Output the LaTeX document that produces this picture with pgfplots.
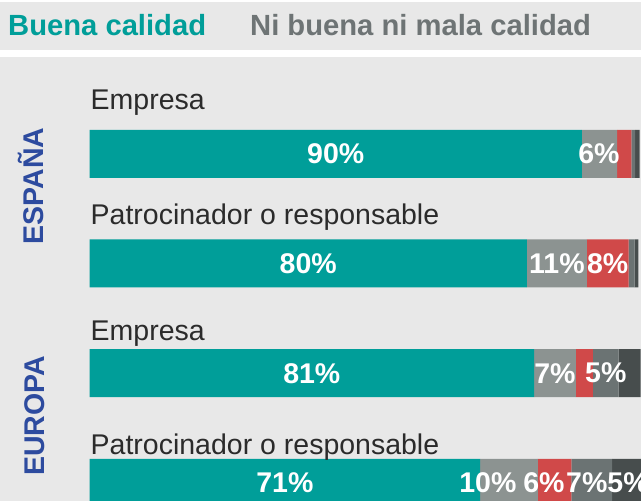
\documentclass[border=0pt]{standalone}
\usepackage{pgfplots}
\pgfplotsset{compat=1.18}
\usepackage{fontspec}
\setmainfont{Liberation Sans}
\definecolor{bg}{HTML}{E8E8E8}
\definecolor{cteal}{HTML}{009E99}
\definecolor{cgrey}{HTML}{8C9391}
\definecolor{cred}{HTML}{D04949}
\definecolor{cdk}{HTML}{6B7373}
\definecolor{cdkst}{HTML}{474D4D}
\definecolor{cblue}{HTML}{2D4B9F}
\definecolor{clegrey}{HTML}{6E7475}
\definecolor{ctext}{HTML}{2B2B2B}
\newcommand\bigf{\fontsize{28.5}{32}\selectfont}
\newcommand\legf{\fontsize{29.2}{32}\selectfont}
\begin{document}
\begin{tikzpicture}[x=1pt,y=1pt]
\useasboundingbox (0,0) rectangle (641,501);
\clip (0,0) rectangle (641,501);
\fill[white] (0,0) rectangle (641,501);
\fill[bg] (0,0) rectangle (641,444);
\fill[bg] (0,451) rectangle (641,499);
\pgfplotsset{base/.style={at={(0,0)}, anchor=south west, scale only axis,
  width=641pt, height=501pt, xmin=-16.29, xmax=100.36, ymin=0, ymax=501, hide axis}}
\begin{axis}[base, xbar stacked, bar width=48, clip=true]
\addplot[fill=cteal, draw=none] coordinates {(89.6,347) (79.6,237.7) (80.9,127.8) (71.1,18)};
\addplot[fill=cgrey, draw=none] coordinates {(6.4,347) (10.9,237.7) (7.6,127.8) (10.5,18)};
\addplot[fill=cred, draw=none] coordinates {(2.6,347) (7.6,237.7) (3.1,127.8) (6.1,18)};
\addplot[fill=cdk, draw=none] coordinates {(0.7,347) (1.1,237.7) (4.7,127.8) (7.4,18)};
\addplot[fill=cdkst, draw=none] coordinates {(0.8,347) (0.7,237.7) (4.0,127.8) (5.5,18)};
\end{axis}
\begin{axis}[base, clip=false]
\addplot[only marks, mark=none, nodes near coords={\pgfplotspointmeta}, point meta=explicit symbolic,
  every node near coord/.append style={anchor=center, text=white, inner sep=0pt, font=\bfseries\bigf}]
  coordinates {
  (44.8,347) [90\%] (92.7,347) [6\%]
  (39.8,237.7) [80\%] (85.05,237.7) [11\%] (94.3,237.7) [8\%]
  (40.45,127.8) [81\%] (84.7,127.8) [7\%] (93.95,127.8) [5\%]
  (35.55,18) [71\%] (72.5,18) [10\%] (82.7,18) [6\%] (90.5,18) [7\%] (98.0,18) [5\%]
  };
\end{axis}
\node[anchor=base west, inner sep=0pt, text=cteal, font=\bfseries\legf] at (8,465) {Buena calidad};
\node[anchor=base west, inner sep=0pt, text=clegrey, font=\bfseries\legf] at (250,465) {Ni buena ni mala calidad};
\node[anchor=base west, inner sep=0pt, text=ctext, font=\bigf] at (90.5,391.7) {Empresa};
\node[anchor=base west, inner sep=0pt, text=ctext, font=\bigf] at (90.5,276.7) {Patrocinador o responsable};
\node[anchor=base west, inner sep=0pt, text=ctext, font=\bigf] at (90.5,160.3) {Empresa};
\node[anchor=base west, inner sep=0pt, text=ctext, font=\bigf] at (90.5,46) {Patrocinador o responsable};
\node[anchor=base, rotate=90, inner sep=0pt, text=cblue, font=\bfseries\bigf] at (43.5,315) {ESPAÑA};
\node[anchor=base, rotate=90, inner sep=0pt, text=cblue, font=\bfseries\bigf] at (44.3,85.3) {EUROPA};
\end{tikzpicture}
\end{document}
